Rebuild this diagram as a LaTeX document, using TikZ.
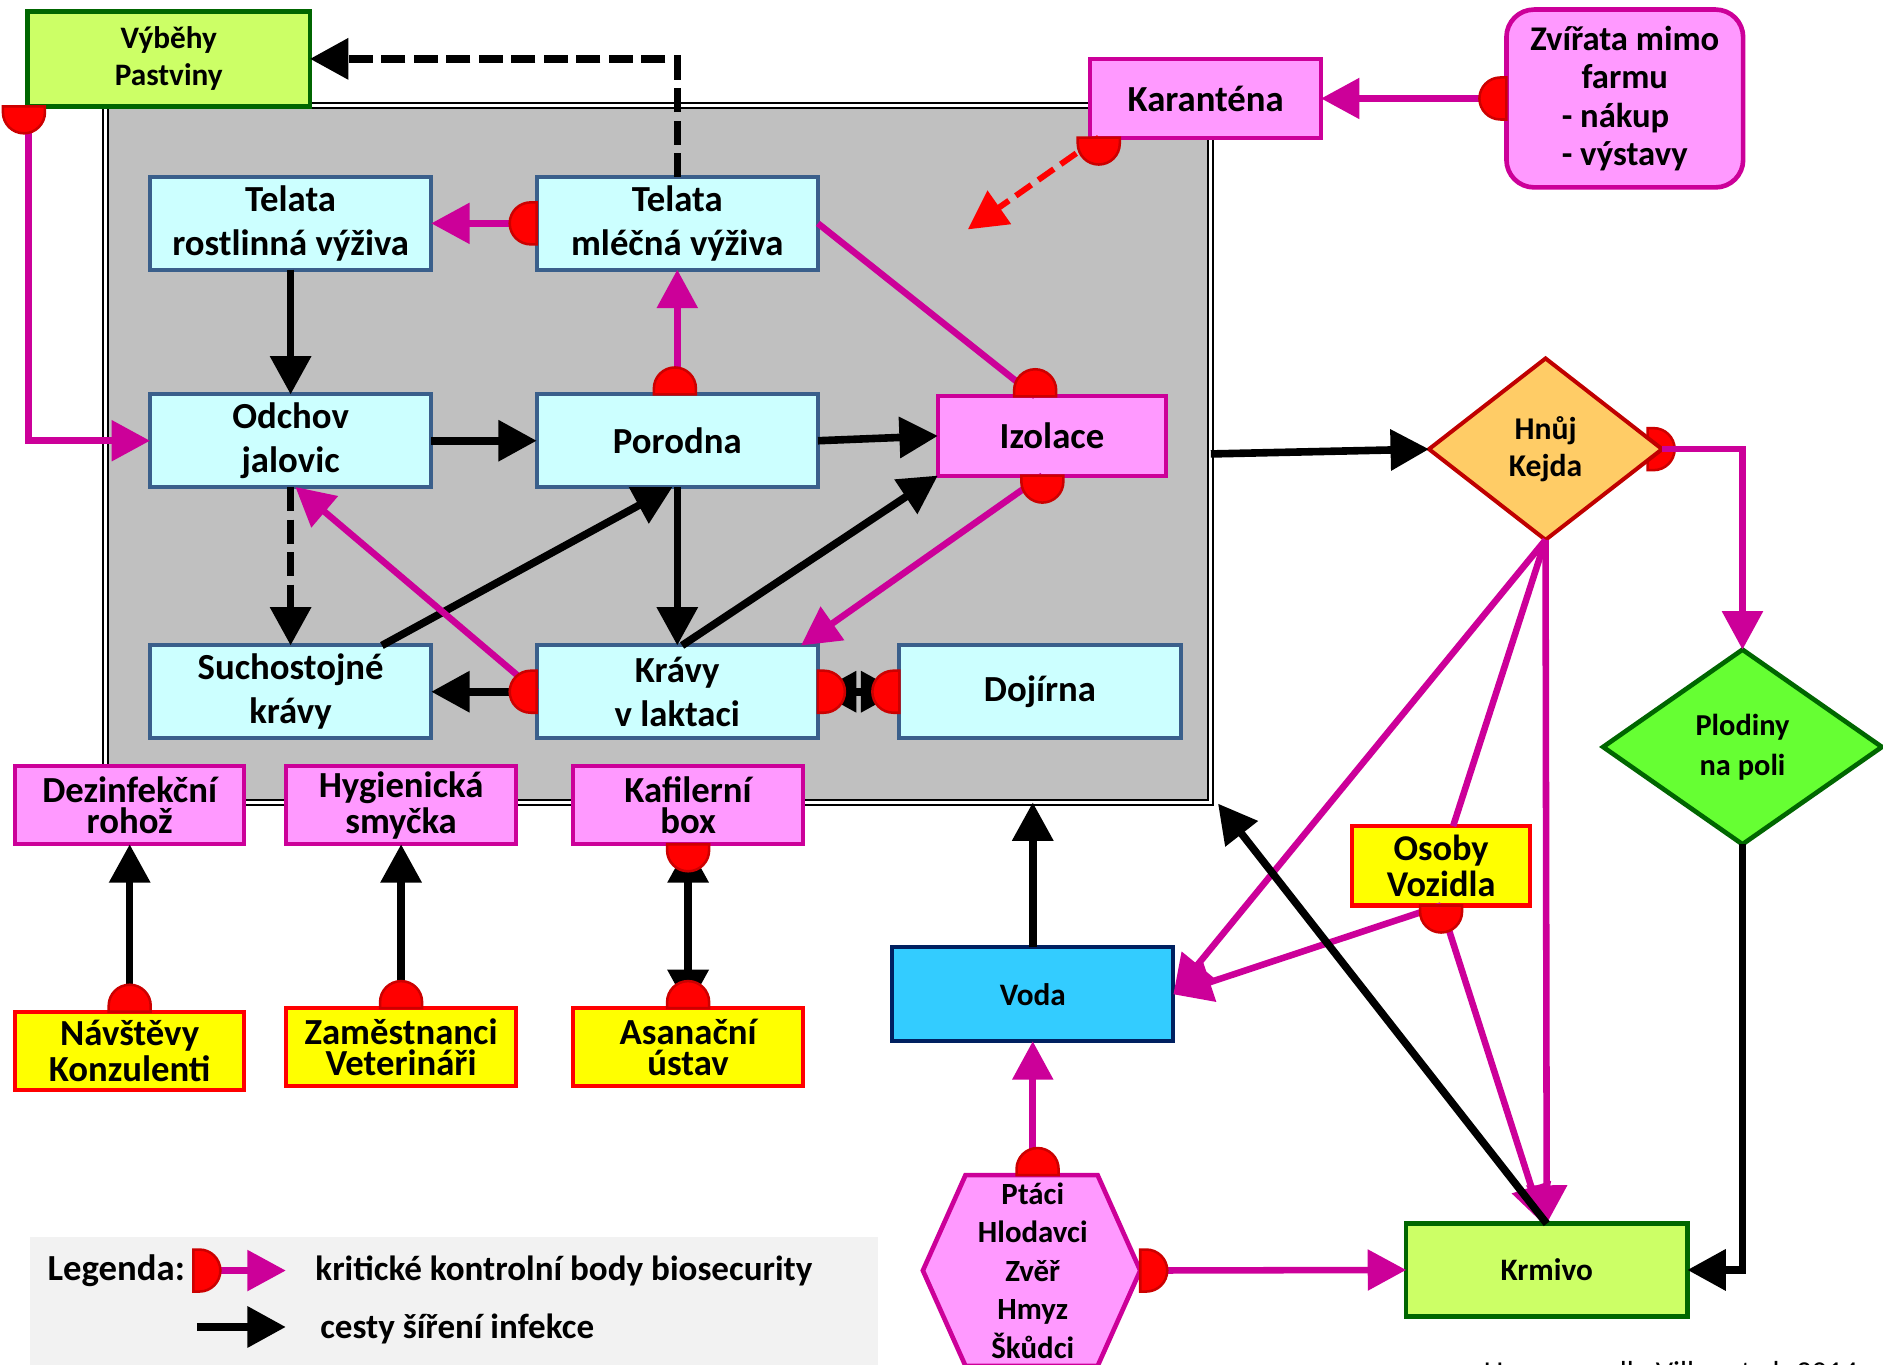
\documentclass[tikz,border=0pt]{standalone}
\usepackage{fontspec}
\setmainfont{Carlito}
\usetikzlibrary{arrows.meta,shapes.geometric}
\definecolor{cyanF}{HTML}{CCFFFF}
\definecolor{cyanB}{HTML}{3A5F8B}
\definecolor{pinkF}{HTML}{FF99FF}
\definecolor{mag}{HTML}{CC0099}
\definecolor{limeF}{HTML}{CCFF66}
\definecolor{dgreen}{HTML}{006600}
\definecolor{orF}{HTML}{FFCC66}
\definecolor{dred}{HTML}{C00000}
\definecolor{grnF}{HTML}{66FF33}
\definecolor{wF}{HTML}{33CCFF}
\definecolor{navy}{HTML}{002060}
\definecolor{yelF}{HTML}{FFFF00}
\definecolor{redF}{HTML}{FF0000}
\definecolor{dotB}{HTML}{CC0000}
\definecolor{greyF}{HTML}{C0C0C0}
\definecolor{legF}{HTML}{F2F2F2}
\newcommand\myfA{\bfseries\fontsize{8.7}{10.5}\selectfont}
\newcommand\myfS{\bfseries\fontsize{8.7}{7.3}\selectfont}
\newcommand\myfM{\bfseries\fontsize{7.4}{8.8}\selectfont}
\newcommand\myfL{\bfseries\fontsize{8.3}{10}\selectfont}
\tikzset{
  box/.style={rectangle, inner sep=0pt, outer sep=0pt, align=center, font=\myfA},
  cbox/.style={box, fill=cyanF, draw=cyanB, line width=0.95pt, minimum width=2.34cm, minimum height=0.77cm},
  pbox/.style={box, fill=pinkF, draw=mag, line width=0.95pt},
  sbox/.style={pbox, font=\myfS, minimum width=1.91cm, minimum height=0.65cm},
  ybox/.style={box, fill=yelF, draw=redF, line width=0.95pt, font=\myfS, minimum width=1.91cm, minimum height=0.65cm},
  lbox/.style={box, fill=limeF, draw=dgreen, line width=1.1pt},
  blk/.style={draw=black, line width=1.8pt, ->},
  blkD/.style={blk, dash pattern=on 5.7pt off 2pt},
  mgA/.style={draw=mag, line width=1.55pt, ->},
  mgL/.style={draw=mag, line width=1.55pt},
  redD/.style={draw=redF, line width=1.4pt, dash pattern=on 4.5pt off 2pt, ->},
  dbl/.style={draw=black, line width=1.8pt, <->},
  dotst/.style={fill=redF, draw=dotB, line width=0.6pt},
  pics/cp/.style={code={\filldraw[dotst, rotate=#1] (0,-17.5) -- (5,-17.5) arc[start angle=-90,end angle=90,radius=17.5] -- (0,17.5) -- cycle;}}
}
\begin{document}
\begin{tikzpicture}[x=0.01cm, y=-0.01cm, >={Triangle[length=9.1pt,width=9.4pt]}]
\useasboundingbox (0,0) rectangle (1568,1136);
\fill[white] (0,0) rectangle (1568,1136);

% farm area
\node[draw=black, double=white, double distance=0.7pt, line width=0.5pt, fill=greyF,
      minimum width=9.2cm, minimum height=5.8cm, inner sep=0pt, outer sep=0pt] (farm) at (548,378) {};

% legend background
\fill[legF] (25,1030) rectangle (731,1140);

% nodes
\node[lbox, minimum width=2.35cm, minimum height=0.79cm, font=\bfseries\fontsize{7.4}{8.8}\selectfont] (vybehy) at (140.5,49) {Výběhy\\Pastviny};
\node[cbox] (trost) at (242,186) {Telata\\rostlinná výživa};
\node[cbox] (tmlec) at (564,186) {Telata\\mléčná výživa};
\node[cbox] (odchov) at (242,367) {Odchov\\jalovic};
\node[cbox] (porodna) at (564,367) {Porodna};
\node[pbox, minimum width=1.9cm, minimum height=0.66cm] (izolace) at (876,363) {Izolace};
\node[cbox] (sucho) at (242,576) {Suchostojné\\krávy};
\node[cbox] (kravy) at (564,576) {Krávy\\v laktaci};
\node[cbox] (dojirna) at (866,576) {Dojírna};
\node[pbox, minimum width=1.92cm, minimum height=0.65cm] (karantena) at (1004,82) {Karanténa};
\node[pbox, rounded corners=0.23cm, line width=1.1pt, minimum width=1.97cm, minimum height=1.48cm,
      font=\bfseries\fontsize{8.2}{9.1}\selectfont] (zvirata) at (1353,82)
      {Zvířata mimo\\farmu\\\rlap{- nákup}\phantom{- výstavy}\\- výstavy};

\pic at (1372,374) {cp=0};
\node[diamond, fill=orF, draw=dred, line width=0.95pt, minimum width=1.94cm, minimum height=1.51cm,
      inner sep=0pt, outer sep=0pt, align=center, font=\bfseries\fontsize{7.5}{8.8}\selectfont] (hnuj) at (1287,374) {Hnůj\\Kejda};
\node[diamond, fill=grnF, draw=dgreen, line width=1.1pt, minimum width=2.32cm, minimum height=1.62cm,
      inner sep=0pt, outer sep=0pt, align=center, font=\bfseries\fontsize{7.2}{9.4}\selectfont] (plodiny) at (1451,622) {Plodiny\\na poli};
\node[ybox, font=\bfseries\fontsize{8.6}{7.3}\selectfont, minimum width=1.48cm, minimum height=0.66cm] (osoby) at (1200,721) {Osoby\\Vozidla};
\node[box, fill=wF, draw=navy, line width=0.95pt, minimum width=2.34cm, minimum height=0.78cm, font=\myfM] (voda) at (860,828) {Voda};
\node[lbox, minimum width=2.34cm, minimum height=0.77cm, font=\myfM] (krmivo) at (1288,1057.5) {Krmivo};

\node[sbox] (dezinf) at (108,670.5) {Dezinfekční\\rohož};
\node[sbox] (hyg) at (334,670.5) {Hygienická\\smyčka};
\node[sbox] (kafil) at (573,670.5) {Kafilerní\\box};
\node[ybox] (navst) at (108,875) {Návštěvy\\Konzulenti};
\node[ybox] (zamest) at (334,872) {Zaměstnanci\\Veterináři};
\node[ybox] (asan) at (573,872) {Asanační\\ústav};

% hexagon
\draw[fill=pinkF, draw=mag, line width=1.1pt] (804,978.5) -- (914,978.5) -- (949.5,1058) -- (914,1137.5) -- (804,1137.5) -- (768.5,1058) -- cycle;
\node[align=center, inner sep=0pt, font=\bfseries\fontsize{7.3}{9.1}\selectfont] (ptaci) at (860,1058) {Ptáci\\Hlodavci\\Zvěř\\Hmyz\\Škůdci};
\coordinate (ptN) at (860,978.5);
\coordinate (ptE) at (949.5,1058);
\coordinate (kartip) at (806,191);

% connectors
\draw[blkD] (tmlec.north) |- (vybehy.east);
\draw[mgA] (tmlec.west) -- (trost.east);
\draw[blk] (trost.south) -- (odchov.north);
\draw[mgA] ([xshift=0.01cm]vybehy.south west) |- (odchov.west);
\draw[blk] (odchov.east) -- (porodna.west);
\draw[blk] (porodna.east) -- (izolace.west);
\draw[mgA] (porodna.north) -- (tmlec.south);
\draw[mgL] (tmlec.east) -- ([xshift=-0.14cm]izolace.north);
\draw[blkD] (odchov.south) -- (sucho.north);
\draw[blk] ([xshift=0.76cm]sucho.north) -- ([xshift=-0.04cm]porodna.south);
\draw[blk] (porodna.south) -- (kravy.north);
\draw[blk] ([xshift=0.04cm]kravy.north) -- (izolace.south west);
\draw[mgA] ([xshift=-0.08cm]izolace.south) -- ([xshift=-0.14cm]kravy.north east);
\draw[mgA] (kravy.west) -- ([xshift=0.04cm]odchov.south);
\draw[blk] (kravy.west) -- (sucho.east);
\draw[dbl] (kravy.east) -- (dojirna.west);
\draw[redD] ([xshift=-0.89cm]karantena.south) -- (kartip);
\draw[mgA] (zvirata.west) -- (karantena.east);
\draw[blk] (farm.east) -- (hnuj.west);
\draw[mgA] (hnuj.east) -| (plodiny.north);
\draw[mgA] (hnuj.south) -- (voda.east);
\draw[mgL] (hnuj.south) -- ([xshift=0.1cm]osoby.north);
\draw[mgA] (hnuj.south) -- (krmivo.north);
\draw[mgA] (osoby.south) -- (voda.east);
\draw[mgA] (osoby.south) -- ([xshift=-0.03cm]krmivo.north);
\draw[blk] (krmivo.north) -- ([shift={(6,1)}]farm.south east);
\draw[blk] (plodiny.south) |- (krmivo.east);
\draw[mgA] (ptE) -- (krmivo.west);
\draw[mgA] (ptN) -- (voda.south);
\draw[blk] (voda.north) -- (voda.north |- farm.south);
\draw[blk] (navst.north) -- (dezinf.south);
\draw[blk] (zamest.north) -- (hyg.south);
\draw[dbl] (kafil.south) -- (asan.north);

% critical control points
\pic at ([xshift=-0.03cm]vybehy.south west) {cp=-90};
\pic at (tmlec.west) {cp=180};
\pic at ([xshift=-0.02cm]porodna.north) {cp=90};
\pic at ([xshift=-0.14cm]izolace.north) {cp=90};
\pic at ([xshift=-0.08cm]izolace.south) {cp=-90};
\pic at (kravy.west) {cp=180};
\pic at (kravy.east) {cp=0};
\pic at (dojirna.west) {cp=180};
\pic at ([xshift=-0.89cm]karantena.south) {cp=-90};
\pic at (zvirata.west) {cp=180};
\pic at (osoby.south) {cp=-90};
\pic at ([xshift=0.04cm]ptN) {cp=90};
\pic at (ptE) {cp=0};
\pic at (kafil.south) {cp=-90};
\pic at (asan.north) {cp=90};
\pic at (zamest.north) {cp=90};
\pic at (navst.north) {cp=90};

% legend
\node[anchor=west, inner sep=0pt, font=\myfA] (legenda) at (39,1058) {Legenda:};
\coordinate (l1a) at (161,1058);
\coordinate (l1b) at (238,1058);
\draw[mgA] (l1a) -- (l1b);
\pic at (l1a) {cp=0};
\node[anchor=west, inner sep=0pt, font=\myfL] (legt1) at (262,1058) {kritické kontrolní body biosecurity};
\coordinate (l2a) at (164,1105);
\coordinate (l2b) at (238,1105);
\draw[blk] (l2a) -- (l2b);
\node[anchor=west, inner sep=0pt, font=\myfL] (legt2) at (266,1107) {cesty šíření infekce};

% source (cut off at the bottom edge)
\node[anchor=base west, inner sep=0pt, font=\fontsize{7.2}{8.5}\selectfont] (cite) at (1235,1151) {Upraveno dle Villar et al. 2014};
\end{tikzpicture}
\end{document}
